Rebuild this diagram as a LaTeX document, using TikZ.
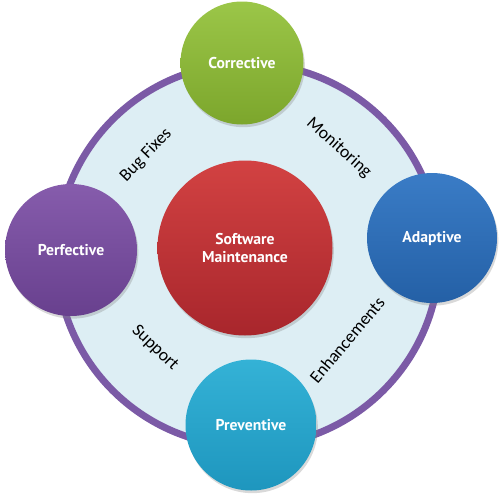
\documentclass[tikz,border=0pt]{standalone}
\usepackage{fontspec}
\usetikzlibrary{shadows}
\newfontfamily\ringfont{Carlito}
\newfontfamily\bubblefont{PT Sans}
\definecolor{myringpurple}{RGB}{123, 90, 166}
\definecolor{myringfill}{RGB}{221, 238, 244}
\definecolor{mygreentop}{RGB}{155, 198, 72}
\definecolor{mygreenbot}{RGB}{124, 166, 44}
\definecolor{myredtop}{RGB}{210, 66, 66}
\definecolor{myredbot}{RGB}{168, 38, 44}
\definecolor{mypurpletop}{RGB}{134, 92, 172}
\definecolor{mypurplebot}{RGB}{104, 64, 142}
\definecolor{mybluetop}{RGB}{58, 124, 198}
\definecolor{mybluebot}{RGB}{36, 96, 166}
\definecolor{myteatop}{RGB}{52, 178, 214}
\definecolor{myteabot}{RGB}{30, 150, 190}
\tikzset{every picture/.style={line width=0.75pt}}
\tikzset{
  bubble/.style={circle, inner sep=0pt, text=white, align=center,
    font=\bubblefont\bfseries\fontsize{11.75}{14}\selectfont,
    drop shadow={opacity=0.3, shadow xshift=1pt, shadow yshift=-2pt}},
  ringlabel/.style={inner sep=0pt, text=black,
    font=\ringfont\fontsize{13.25}{15}\selectfont}
}

\begin{document}
\begin{tikzpicture}[x=0.75pt,y=0.75pt,yscale=-1,xscale=1]
\useasboundingbox (0,0) rectangle (500,500);
%Shape: Ring
\node [circle, draw=myringpurple, fill=myringfill, line width=5.25pt, minimum size=287.25pt, inner sep=0pt] (ring) at (248,255) {};
%Ring labels
\node [ringlabel, rotate=46] (bugfixes) at (146,155) {Bug Fixes};
\node [ringlabel, rotate=-42] (monitoring) at (339,148) {Monitoring};
\node [ringlabel, rotate=-44] (support) at (155,348) {Support};
\node [ringlabel, rotate=50] (enhance) at (347,340) {Enhancements};
%Shape: Circle centre
\node [bubble, top color=myredtop, bottom color=myredbot, minimum size=131.25pt] (maint) at (245,248) {Software\\Maintenance};
%Shape: Circles outside
\node [bubble, top color=mygreentop, bottom color=mygreenbot, minimum size=92.25pt] (corrective) at (242,63) {Corrective};
\node [bubble, top color=mypurpletop, bottom color=mypurplebot, minimum size=99pt] (perfective) at (71,250) {Perfective};
\node [bubble, top color=mybluetop, bottom color=mybluebot, minimum size=97.5pt] (adaptive) at (432,238) {Adaptive};
\node [bubble, top color=myteatop, bottom color=myteabot, minimum size=98.25pt] (preventive) at (251,425) {Preventive};
\end{tikzpicture}
\end{document}
